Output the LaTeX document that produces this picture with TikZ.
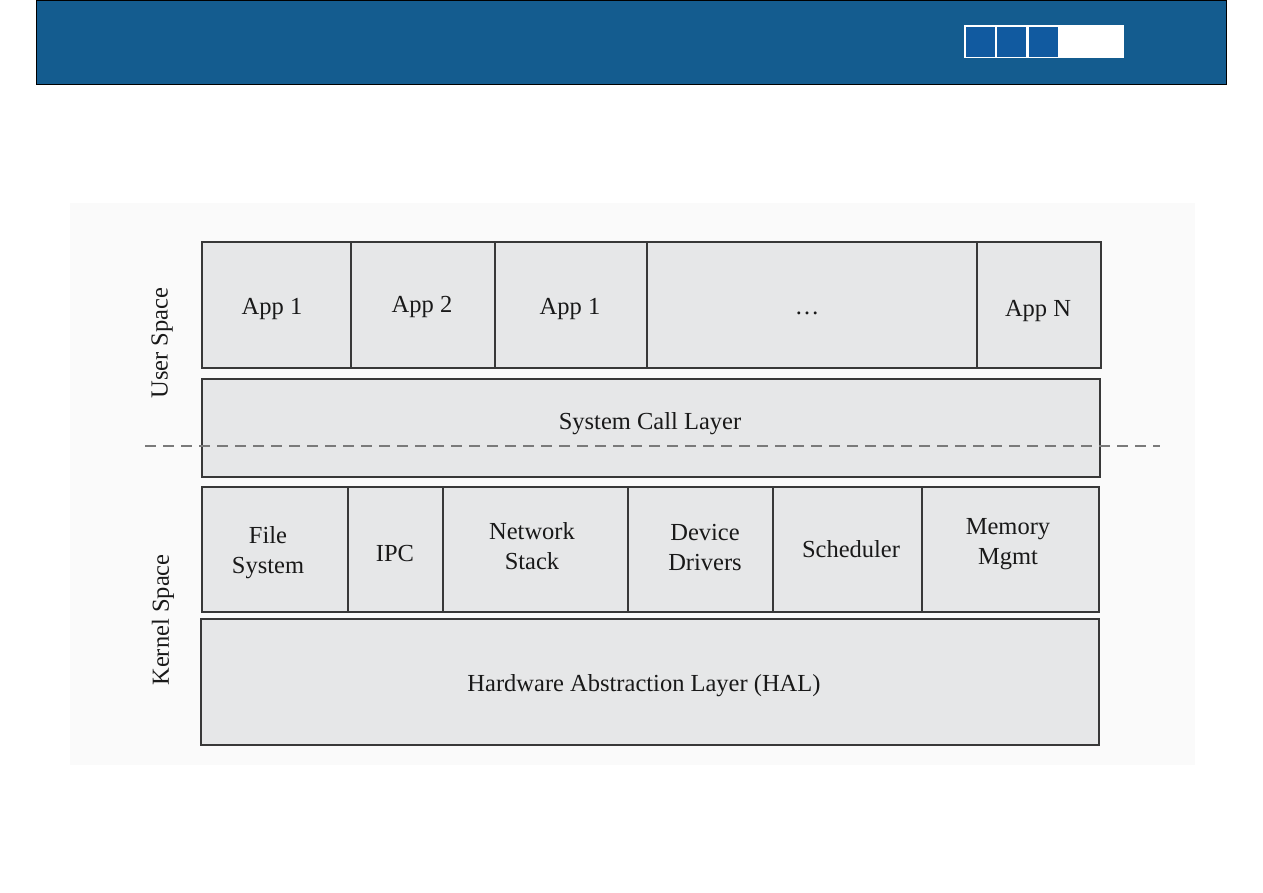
\documentclass[tikz,border=0pt]{standalone}
\usepackage{fontspec}
\setmainfont{Liberation Serif}
\definecolor{hdr}{HTML}{145C8F}
\definecolor{sq}{HTML}{115AA0}
\definecolor{cellfill}{HTML}{E6E7E8}
\definecolor{celldraw}{HTML}{383838}
\definecolor{panel}{HTML}{FAFAFA}
\definecolor{dashc}{HTML}{7A7A7A}
\tikzset{
  cell/.style={draw=celldraw, fill=cellfill, line width=2.8pt, rectangle, inner sep=0pt,
    align=center, font=\fontsize{24.5}{30}\selectfont, text=black!90},
  side/.style={rotate=90, font=\fontsize{24.5}{30}\selectfont, text=black!90},
  sqbox/.style={fill=sq, draw=none, minimum width=29pt, minimum height=30pt, inner sep=0pt},
}
\begin{document}
\begin{tikzpicture}[x=1pt,y=-1pt]
\useasboundingbox (0,0) rectangle (1263,893);
\fill[white] (0,0) rectangle (1263,893);
% header
\node[draw=black, line width=0.8pt, fill=hdr, minimum width=1190pt, minimum height=84pt, inner sep=0pt] (header) at (631,42) {};
\node[fill=white, minimum width=160pt, minimum height=33pt, inner sep=0pt] (bar) at (1044,41.5) {};
\node[sqbox] (s1) at (980.5,42) {};
\node[sqbox] (s2) at (1011.5,42) {};
\node[sqbox] (s3) at (1043,42) {};
% panel
\node[fill=panel, minimum width=1125pt, minimum height=562pt, inner sep=0pt] (panel) at (632.5,484) {};
% apps row
\node[cell, minimum width=149pt, minimum height=126pt] (a1) at (276.5,305) {};
\node[cell, minimum width=144pt, minimum height=126pt] (a2) at (423,305) {};
\node[cell, minimum width=152pt, minimum height=126pt] (a3) at (571,305) {};
\node[cell, minimum width=330pt, minimum height=126pt] (a4) at (812,305) {};
\node[cell, minimum width=124pt, minimum height=126pt] (a5) at (1039,305) {};
\node[cell, draw=none, fill=none] (a1t) at (272,309) {App 1};
\node[cell, draw=none, fill=none] (a2t) at (422,307) {App 2};
\node[cell, draw=none, fill=none] (a3t) at (570,309) {App 1};
\node[cell, draw=none, fill=none] (a4t) at (807,313) {\dots};
\node[cell, draw=none, fill=none] (a5t) at (1038,311) {App N};
% system call layer
\node[cell, minimum width=898pt, minimum height=98pt] (sys) at (651,428) {};
\node[cell, draw=none, fill=none] (syst) at (650,424) {System Call Layer};
% dashed separator
\coordinate (dl) at (145,446);
\coordinate (dr) at (1160,446);
\draw[dashc, line width=2.4pt, dash pattern=on 11pt off 7pt] (dl) -- (dr);
% kernel row
\node[cell, minimum width=146pt, minimum height=125pt] (k1) at (275,549.5) {};
\node[cell, minimum width=95pt, minimum height=125pt] (k2) at (395.5,549.5) {};
\node[cell, minimum width=185pt, minimum height=125pt] (k3) at (535.5,549.5) {};
\node[cell, minimum width=145pt, minimum height=125pt] (k4) at (700.5,549.5) {};
\node[cell, minimum width=149pt, minimum height=125pt] (k5) at (847.5,549.5) {};
\node[cell, minimum width=177pt, minimum height=125pt] (k6) at (1010.5,549.5) {};
\node[cell, draw=none, fill=none] (k1t) at (268,553) {File\\System};
\node[cell, draw=none, fill=none] (k2t) at (395,554) {IPC};
\node[cell, draw=none, fill=none] (k3t) at (532,546) {Network\\Stack};
\node[cell, draw=none, fill=none] (k4t) at (705,548) {Device\\Drivers};
\node[cell, draw=none, fill=none] (k5t) at (851,549) {Scheduler};
\node[cell, draw=none, fill=none] (k6t) at (1008,544) {Memory\\Mgmt};
% HAL
\node[cell, minimum width=898pt, minimum height=126pt] (hal) at (650,682) {};
\node[cell, draw=none, fill=none] (halt) at (644,686) {Hardware Abstraction Layer (HAL)};
% side labels
\node[side] (us) at (162,343) {User Space};
\node[side] (ks) at (163,620) {Kernel Space};
\end{tikzpicture}
\end{document}
